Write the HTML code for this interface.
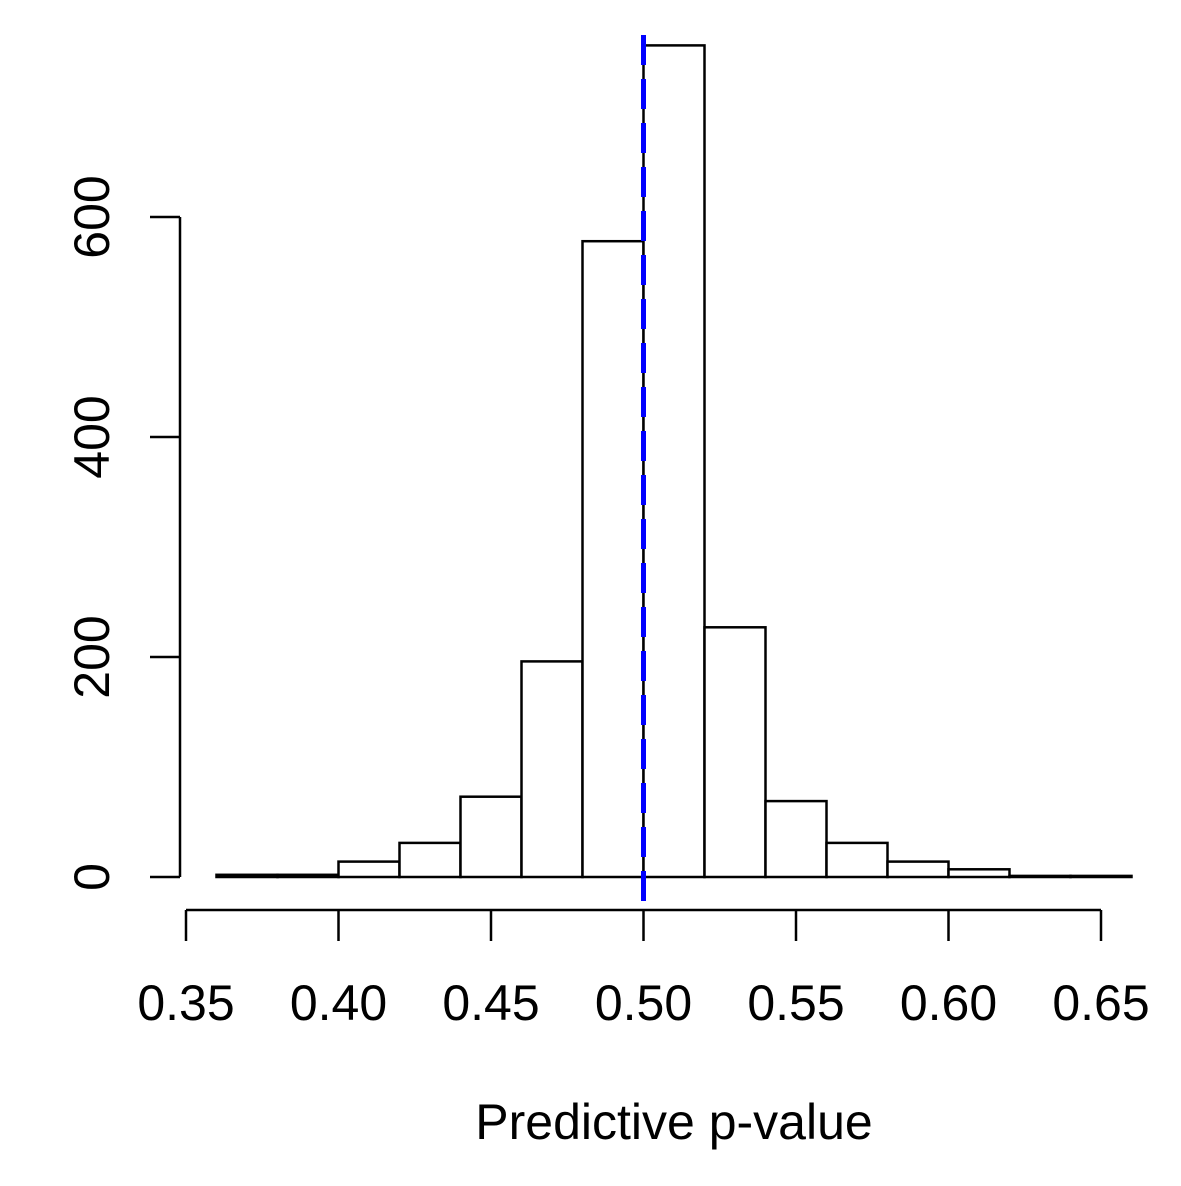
<!DOCTYPE html>
<html><head><meta charset="utf-8"><style>
body{margin:0;background:#fff}
svg text{font-family:"Liberation Sans",Arial,sans-serif;fill:#000}
</style></head><body>
<svg id="chart" width="1181" height="1181" xmlns="http://www.w3.org/2000/svg">
<g id="bars"></g>
<g id="xaxis"></g>
<g id="yaxis"></g>
<text x="674" y="1139" font-size="50" text-anchor="middle">Predictive p-value</text>
</svg>
<script>
const binStarts = [0.36,0.38,0.40,0.42,0.44,0.46,0.48,0.50,0.52,0.54,0.56,0.58,0.60,0.62,0.64];
const counts = [2,2,14,31,73,196,578,756,227,69,31,14,7,1,1];
const xTicks = [0.35,0.40,0.45,0.50,0.55,0.60,0.65];
const xTickLabels = ["0.35","0.40","0.45","0.50","0.55","0.60","0.65"];
const yTicks = [0,200,400,600];
const refValue = 0.50;
const binWidth = 0.02;
const NS="http://www.w3.org/2000/svg";
const X=v=>186+(v-0.35)*(1101-186)/0.30;
const Y=v=>877-v*(877-217)/600;
function mk(tag,attrs,parent){const e=document.createElementNS(NS,tag);for(const k in attrs)e.setAttribute(k,attrs[k]);parent.appendChild(e);return e;}
const bars=document.getElementById('bars');
binStarts.forEach((b,i)=>{
 const r=mk('rect',{x:X(b),y:Y(counts[i]),width:X(b+binWidth)-X(b),height:Y(0)-Y(counts[i]),fill:'#fff',stroke:'#000','stroke-width':2.5},bars);
 
 
});
const xa=document.getElementById('xaxis');
mk('line',{x1:X(xTicks[0]),x2:X(xTicks[xTicks.length-1]),y1:910,y2:910,stroke:'#000','stroke-width':2.5},xa);
xTicks.forEach((t,i)=>{
 mk('line',{x1:X(t),x2:X(t),y1:910,y2:941,stroke:'#000','stroke-width':2.5},xa);
 const tx=mk('text',{x:X(t),y:1020,'font-size':50,'text-anchor':'middle'},xa);
 tx.textContent=xTickLabels[i];
 
 
});
const ya=document.getElementById('yaxis');
mk('line',{x1:180,x2:180,y1:Y(0),y2:Y(600),stroke:'#000','stroke-width':2.5},ya);
yTicks.forEach(t=>{
 mk('line',{x1:150,x2:180,y1:Y(t),y2:Y(t),stroke:'#000','stroke-width':2.5},ya);
 const tx=mk('text',{x:0,y:0,'font-size':50,'text-anchor':'middle',transform:`translate(109,${Y(t)}) rotate(-90)`},ya);
 tx.textContent=String(t);
 
 
});
const ref=mk('line',{x1:X(refValue),x2:X(refValue),y1:35,y2:910,stroke:'#0000ff','stroke-width':5,'stroke-dasharray':'30 14'},document.getElementById('chart'));


</script>
</body></html>
